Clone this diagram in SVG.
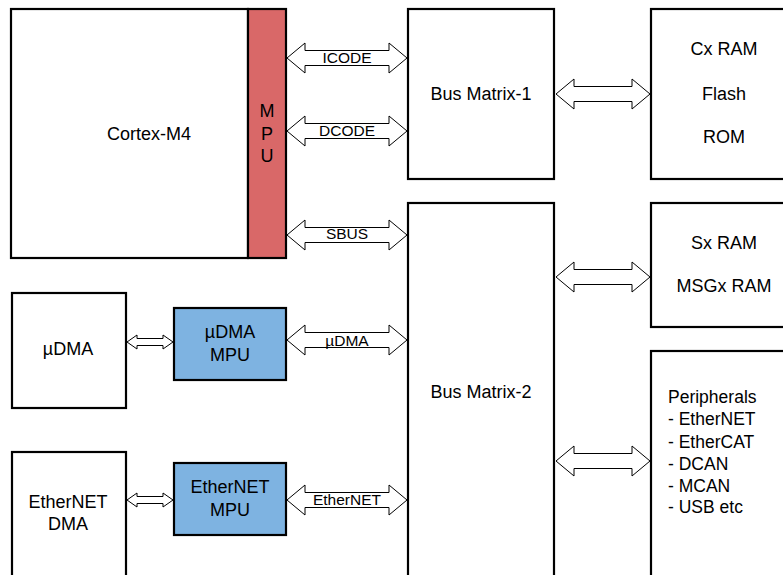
<svg xmlns="http://www.w3.org/2000/svg" width="783" height="575" viewBox="0 0 783 575">
<style>
.box{fill:#fff;stroke:#000;stroke-width:2.2}
.red{fill:#d96868;stroke:#000;stroke-width:2.2}
.blue{fill:#7eb3e1;stroke:#000;stroke-width:2.2}
.arr{fill:#fff;stroke:#000;stroke-width:1}
text{font-family:"Liberation Sans",Arial,sans-serif;fill:#000}
.t{font-size:18px;text-anchor:middle}
.lbl{font-size:15.5px;text-anchor:middle}
.pl{font-size:17.5px}
</style>
<rect width="783" height="575" fill="#fff"/>
<g id="connectors">
<polygon class="arr" points="287,58 305,43 305,50.5 389,50.5 389,43 407,58 389,73 389,65.5 305,65.5 305,73"/>
<polygon class="arr" points="287,131 305,116 305,123.5 389,123.5 389,116 407,131 389,146 389,138.5 305,138.5 305,146"/>
<polygon class="arr" points="287,235 305,220 305,227.5 389,227.5 389,220 407,235 389,250 389,242.5 305,242.5 305,250"/>
<polygon class="arr" points="287,340 305,325 305,332.5 389,332.5 389,325 407,340 389,355 389,347.5 305,347.5 305,355"/>
<polygon class="arr" points="287,500 305,485 305,492.5 389,492.5 389,485 407,500 389,515 389,507.5 305,507.5 305,515"/>
<polygon class="arr" points="556,94 574,79 574,86.5 632,86.5 632,79 650,94 632,109 632,101.5 574,101.5 574,109"/>
<polygon class="arr" points="556,277 574,262 574,269.5 632,269.5 632,262 650,277 632,292 632,284.5 574,284.5 574,292"/>
<polygon class="arr" points="556,461 574,446 574,453.5 632,453.5 632,446 650,461 632,476 632,468.5 574,468.5 574,476"/>
<polygon class="arr" points="127,342 137,335 137,338.5 163,338.5 163,335 173,342 163,349 163,345.5 137,345.5 137,349"/>
<polygon class="arr" points="127,500 137,493 137,496.5 163,496.5 163,493 173,500 163,507 163,503.5 137,503.5 137,507"/>
<text class="lbl" x="347" y="63">ICODE</text>
<text class="lbl" x="347" y="136">DCODE</text>
<text class="lbl" x="347" y="239">SBUS</text>
<text class="lbl" x="347" y="346">µDMA</text>
<text class="lbl" x="347" y="505">EtherNET</text>
</g>
<g id="cortex">
<rect class="box" x="11" y="9" width="237" height="249"/>
<text class="t" x="149" y="140">Cortex-M4</text>
</g>
<g id="mpu">
<rect class="red" x="248" y="9" width="38" height="249"/>
<text class="t" x="267" y="117">M</text>
<text class="t" x="267" y="140">P</text>
<text class="t" x="267" y="162">U</text>
</g>
<g id="bm1">
<rect class="box" x="408" y="9" width="146" height="170"/>
<text class="t" x="481" y="100">Bus Matrix-1</text>
</g>
<g id="bm2">
<rect class="box" x="408" y="203" width="146" height="390"/>
<text class="t" x="481" y="398">Bus Matrix-2</text>
</g>
<g id="cxram">
<rect class="box" x="651" y="9" width="150" height="170"/>
<text class="t" x="724" y="55">Cx RAM</text>
<text class="t" x="724" y="100">Flash</text>
<text class="t" x="724" y="143">ROM</text>
</g>
<g id="sxram">
<rect class="box" x="651" y="203" width="150" height="124"/>
<text class="t" x="724" y="249">Sx RAM</text>
<text class="t" x="724" y="292">MSGx RAM</text>
</g>
<g id="periph">
<rect class="box" x="651" y="351" width="150" height="250"/>
<text class="pl" x="668" y="403">Peripherals</text>
<text class="pl" x="668" y="425">- EtherNET</text>
<text class="pl" x="668" y="448">- EtherCAT</text>
<text class="pl" x="668" y="470">- DCAN</text>
<text class="pl" x="668" y="492">- MCAN</text>
<text class="pl" x="668" y="513">- USB etc</text>
</g>
<g id="udma">
<rect class="box" x="12" y="293" width="114" height="115"/>
<text class="t" x="68" y="355">µDMA</text>
</g>
<g id="udmampu">
<rect class="blue" x="174" y="308" width="112" height="72"/>
<text class="t" x="230" y="338">µDMA</text>
<text class="t" x="230" y="361">MPU</text>
</g>
<g id="ethdma">
<rect class="box" x="12" y="452" width="114" height="140"/>
<text class="t" x="68" y="508">EtherNET</text>
<text class="t" x="68" y="530">DMA</text>
</g>
<g id="ethmpu">
<rect class="blue" x="174" y="463" width="112" height="72"/>
<text class="t" x="230" y="493">EtherNET</text>
<text class="t" x="230" y="516">MPU</text>
</g>
</svg>
